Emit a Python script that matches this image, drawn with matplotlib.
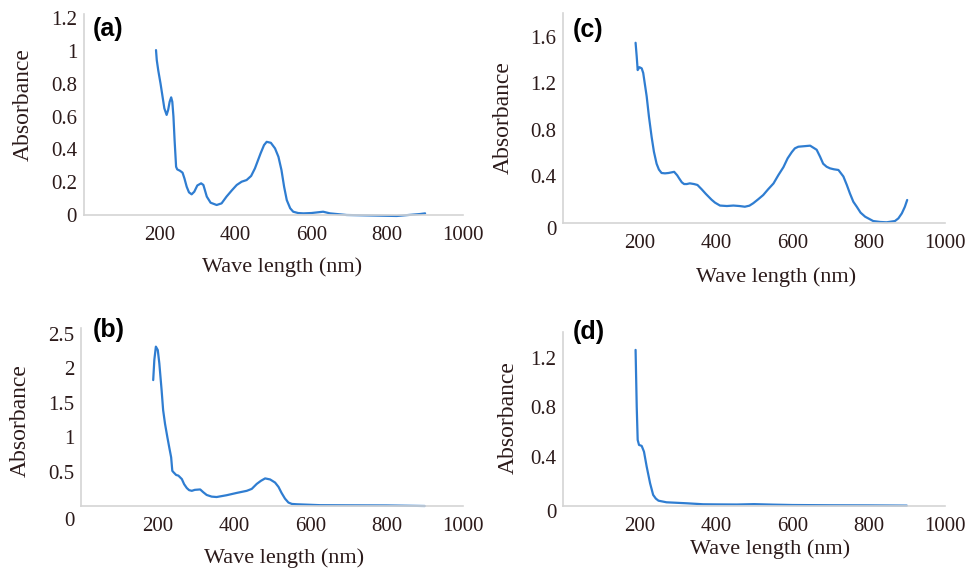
import matplotlib
matplotlib.use("Agg")
import matplotlib.pyplot as plt

# ---------------- data ----------------
wl_a = [190, 192, 196, 199, 202, 208, 212, 218, 222, 226, 230, 233, 236, 239, 243, 246,
        253, 260, 265, 271, 277, 284, 291, 299, 309, 315, 324, 334, 350, 363, 376, 390,
        403, 416, 429, 441, 451, 466, 475, 482, 493, 504, 513, 521, 528, 535, 544, 552,
        565, 579, 600, 631, 649, 693, 781, 825, 887, 900]
abs_a = [1.005, 0.944, 0.88, 0.84, 0.80, 0.71, 0.65, 0.61, 0.64, 0.69, 0.717, 0.69, 0.60,
         0.457, 0.294, 0.278, 0.27, 0.258, 0.223, 0.172, 0.138, 0.126, 0.142, 0.18, 0.193,
         0.183, 0.112, 0.075, 0.061, 0.071, 0.112, 0.15, 0.183, 0.203, 0.213, 0.238, 0.284,
         0.376, 0.426, 0.446, 0.44, 0.406, 0.355, 0.274, 0.172, 0.091, 0.041, 0.02, 0.012,
         0.01, 0.012, 0.02, 0.01, 0.0, -0.004, -0.006, 0.006, 0.01]

wl_b = [189, 192, 196, 201, 205, 211, 215, 220, 226, 231, 236, 239, 242, 249, 255, 264,
        270, 277, 283, 290, 298, 312, 320, 329, 342, 355, 381, 408, 434, 447, 460, 471,
        482, 495, 508, 517, 525, 534, 543, 552, 565, 626, 700, 800, 900]
abs_b = [1.825, 2.12, 2.31, 2.26, 2.07, 1.68, 1.39, 1.19, 1.0, 0.85, 0.705, 0.51, 0.49,
         0.45, 0.44, 0.39, 0.316, 0.26, 0.23, 0.22, 0.234, 0.24, 0.2, 0.16, 0.136, 0.13,
         0.156, 0.19, 0.22, 0.248, 0.32, 0.365, 0.40, 0.385, 0.34, 0.277, 0.19, 0.107,
         0.05, 0.03, 0.025, 0.012, 0.01, 0.008, 0.0]

wl_c = [190, 193, 195.5, 200, 206, 210, 219, 225, 232, 238, 245, 251, 258, 267, 276, 285,
        291, 299, 304, 311, 317, 324, 332, 343, 352, 363, 374, 389, 398, 411, 429, 446,
        462, 476, 488, 498, 511, 524, 537, 551, 564, 577, 588, 599, 607, 616, 647, 664,
        673, 681, 690, 699, 709, 721, 734, 743, 751, 760, 769, 779, 791, 812, 830, 847,
        869, 878, 887, 895, 901]
abs_c = [1.55, 1.43, 1.315, 1.34, 1.33, 1.29, 1.09, 0.914, 0.74, 0.613, 0.51, 0.46, 0.43,
         0.427, 0.43, 0.436, 0.44, 0.41, 0.384, 0.35, 0.335, 0.335, 0.341, 0.335, 0.327,
         0.29, 0.25, 0.20, 0.175, 0.15, 0.146, 0.15, 0.146, 0.14, 0.149, 0.17, 0.204, 0.24,
         0.29, 0.34, 0.413, 0.48, 0.556, 0.61, 0.642, 0.656, 0.665, 0.63, 0.57, 0.51,
         0.484, 0.47, 0.462, 0.456, 0.40, 0.327, 0.255, 0.183, 0.14, 0.089, 0.054, 0.017,
         0.009, 0.006, 0.017, 0.04, 0.083, 0.14, 0.198]

wl_d = [190, 193, 195.5, 199, 206, 212, 219, 228, 236, 243, 250, 271, 324, 367, 400, 455,
        500, 550, 600, 700, 800, 900]
abs_d = [1.265, 0.805, 0.535, 0.495, 0.487, 0.44, 0.32, 0.184, 0.09, 0.06, 0.043, 0.03,
         0.022, 0.014, 0.013, 0.012, 0.015, 0.011, 0.008, 0.006, 0.005, 0.003]

yticks_a = [0, 0.2, 0.4, 0.6, 0.8, 1.0, 1.2]
ylabels_a = ["0", "0.2", "0.4", "0.6", "0.8", "1", "1.2"]
yticks_b = [0, 0.5, 1.0, 1.5, 2.0, 2.5]
ylabels_b = ["0", "0.5", "1", "1.5", "2", "2.5"]
yticks_c = [0, 0.4, 0.8, 1.2, 1.6]
ylabels_c = ["0", "0.4", "0.8", "1.2", "1.6"]
yticks_d = [0, 0.4, 0.8, 1.2]
ylabels_d = ["0", "0.4", "0.8", "1.2"]
xticks = [200, 400, 600, 800, 1000]
xlabels = ["200", "400", "600", "800", "1000"]
panel_names = ["(a)", "(b)", "(c)", "(d)"]

# ---------------- style ----------------
W, H = 971, 577
TEXT = "#2b1a1a"
LINE = "#2f7dd1"
SPINE = "#d4d4d4"
SERIF = ["Liberation Serif", "DejaVu Serif"]
SANS = ["Liberation Sans", "DejaVu Sans"]

fig = plt.figure(figsize=(W / 100, H / 100), dpi=100)


def px_rect(left, top, right, bottom):
    return [left / W, 1 - bottom / H, (right - left) / W, (bottom - top) / H]


panels = [
    # rect px, data, yticks, ylabels, ylim top, xlabel pos, ylabel pos, zero offset px, label pos px
    (px_rect(84, 14, 463, 215), wl_a, abs_a, yticks_a, ylabels_a, 1.225,
     (0.522, -0.259), (-0.161, 0.55), 0, (93, 29)),
    (px_rect(81, 328, 463, 506), wl_b, abs_b, yticks_b, ylabels_b, 2.58,
     (0.531, -0.292), (-0.16, 0.478), 15, (93, 330)),
    (px_rect(563, 13, 945, 223), wl_c, abs_c, yticks_c, ylabels_c, 1.806,
     (0.558, -0.257), (-0.157, 0.5), 7, (573, 30)),
    (px_rect(563, 332, 945, 506), wl_d, abs_d, yticks_d, ylabels_d, 1.41,
     (0.542, -0.25), (-0.144, 0.51), 7, (573, 332)),
]

for (rect, xs, ys, yt, yl, ytop, xlp, ylp, zoff, lblpos), name in zip(panels, panel_names):
    ax = fig.add_axes(rect)
    ax.plot(xs, ys, color=LINE, lw=1.6, solid_joinstyle="round",
            solid_capstyle="round", clip_on=False)
    ax.set_xlim(0, 1000)
    ax.set_ylim(0, ytop)
    for s in ("top", "right"):
        ax.spines[s].set_visible(False)
    for s in ("left", "bottom"):
        ax.spines[s].set_color(SPINE)
        ax.spines[s].set_linewidth(1.2)
    ax.set_xticks(xticks)
    ax.set_xticklabels(xlabels, fontfamily=SERIF, fontsize=15, color=TEXT)
    ax.set_yticks(yt)
    shown = ["" if (lab == "0" and zoff) else lab for lab in yl]
    ax.set_yticklabels(shown, fontfamily=SERIF, fontsize=15, color=TEXT)
    ax.tick_params(axis="both", length=0)
    ax.tick_params(axis="x", pad=8)
    ax.tick_params(axis="y", pad=5)
    if zoff:
        ax.annotate("0", xy=(0, 0), xycoords=("axes fraction", "data"),
                    xytext=(-6, -zoff), textcoords="offset pixels",
                    ha="right", va="center", fontfamily=SERIF, fontsize=15,
                    color=TEXT, annotation_clip=False)
    ax.set_xlabel("Wave length (nm)", fontfamily=SERIF, fontsize=16, color=TEXT)
    ax.xaxis.set_label_coords(*xlp)
    ax.xaxis.label.set_va("center")
    ax.set_ylabel("Absorbance", fontfamily=SERIF, fontsize=17, color=TEXT)
    ax.yaxis.set_label_coords(*ylp)
    ax.yaxis.label.set_va("center")
    ax.patch.set_alpha(0)
    fig.text(lblpos[0] / W, 1 - lblpos[1] / H, name, ha="left", va="center",
             fontfamily=SANS, fontweight="bold", fontsize=18, color="black")

fig.savefig("out.png", dpi=100, facecolor="white")
